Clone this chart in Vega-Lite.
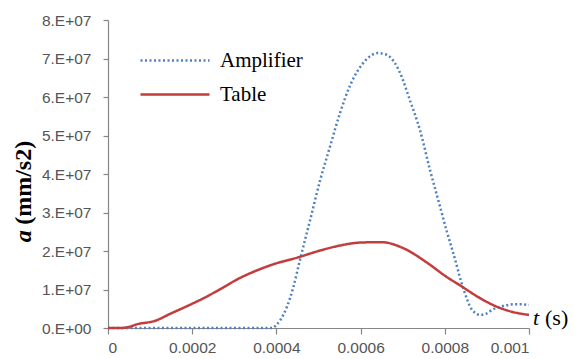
{
  "$schema": "https://vega.github.io/schema/vega-lite/v6.json",
  "width": 421,
  "height": 308,
  "autosize": {"type": "none"},
  "padding": {"left": 108, "top": 20, "right": 46, "bottom": 31},
  "background": "white",
  "config": {
    "view": {"stroke": null},
    "axis": {
      "grid": false,
      "domainColor": "#868686",
      "tickColor": "#868686",
      "domainWidth": 1.2,
      "tickWidth": 1.2,
      "labelFont": "Liberation Sans",
      "labelFontSize": 15.5,
      "labelColor": "#555555",
      "labelOverlap": false
    },
    "legend": {
      "labelFont": "Liberation Serif",
      "labelFontSize": 21,
      "labelColor": "#000000",
      "symbolType": "stroke",
      "symbolSize": 4761,
      "symbolStrokeWidth": 2.5,
      "labelOffset": 9,
      "clipHeight": 21,
      "rowPadding": 12
    }
  },
  "layer": [
    {
      "data": {
        "values": [
          {"series": "Amplifier", "t": 0, "a": 0},
          {"series": "Amplifier", "t": 0.0001, "a": 0},
          {"series": "Amplifier", "t": 0.0002, "a": 0},
          {"series": "Amplifier", "t": 0.0003, "a": 0},
          {"series": "Amplifier", "t": 0.00039, "a": 0},
          {"series": "Amplifier", "t": 0.0004, "a": 800000},
          {"series": "Amplifier", "t": 0.00041, "a": 2200000},
          {"series": "Amplifier", "t": 0.000425, "a": 5500000},
          {"series": "Amplifier", "t": 0.00044, "a": 10500000},
          {"series": "Amplifier", "t": 0.000456, "a": 17700000},
          {"series": "Amplifier", "t": 0.00048, "a": 28000000},
          {"series": "Amplifier", "t": 0.000504, "a": 38400000},
          {"series": "Amplifier", "t": 0.000527, "a": 47000000},
          {"series": "Amplifier", "t": 0.000551, "a": 55800000},
          {"series": "Amplifier", "t": 0.000575, "a": 63000000},
          {"series": "Amplifier", "t": 0.000606, "a": 68800000},
          {"series": "Amplifier", "t": 0.000625, "a": 70800000},
          {"series": "Amplifier", "t": 0.000641, "a": 71400000},
          {"series": "Amplifier", "t": 0.000655, "a": 71200000},
          {"series": "Amplifier", "t": 0.00067, "a": 70400000},
          {"series": "Amplifier", "t": 0.000694, "a": 66200000},
          {"series": "Amplifier", "t": 0.000717, "a": 59200000},
          {"series": "Amplifier", "t": 0.000741, "a": 51400000},
          {"series": "Amplifier", "t": 0.000765, "a": 41000000},
          {"series": "Amplifier", "t": 0.000789, "a": 31400000},
          {"series": "Amplifier", "t": 0.000805, "a": 25000000},
          {"series": "Amplifier", "t": 0.00082, "a": 19500000},
          {"series": "Amplifier", "t": 0.000843, "a": 10600000},
          {"series": "Amplifier", "t": 0.000865, "a": 4700000},
          {"series": "Amplifier", "t": 0.000884, "a": 3400000},
          {"series": "Amplifier", "t": 0.0009, "a": 3800000},
          {"series": "Amplifier", "t": 0.000912, "a": 4700000},
          {"series": "Amplifier", "t": 0.000938, "a": 5700000},
          {"series": "Amplifier", "t": 0.000971, "a": 6200000},
          {"series": "Amplifier", "t": 0.001, "a": 6000000},
          {"series": "Table", "t": 0, "a": 0},
          {"series": "Table", "t": 0.00003, "a": 0},
          {"series": "Table", "t": 0.00005, "a": 300000},
          {"series": "Table", "t": 0.00007, "a": 1000000},
          {"series": "Table", "t": 0.00011, "a": 1800000},
          {"series": "Table", "t": 0.00015, "a": 3800000},
          {"series": "Table", "t": 0.0002, "a": 6300000},
          {"series": "Table", "t": 0.00023, "a": 7900000},
          {"series": "Table", "t": 0.00027, "a": 10300000},
          {"series": "Table", "t": 0.00031, "a": 12800000},
          {"series": "Table", "t": 0.00035, "a": 14800000},
          {"series": "Table", "t": 0.0004, "a": 16800000},
          {"series": "Table", "t": 0.00045, "a": 18300000},
          {"series": "Table", "t": 0.0005, "a": 20000000},
          {"series": "Table", "t": 0.00055, "a": 21400000},
          {"series": "Table", "t": 0.0006, "a": 22200000},
          {"series": "Table", "t": 0.00065, "a": 22300000},
          {"series": "Table", "t": 0.0007, "a": 20800000},
          {"series": "Table", "t": 0.00076, "a": 16800000},
          {"series": "Table", "t": 0.0008, "a": 13600000},
          {"series": "Table", "t": 0.00084, "a": 10800000},
          {"series": "Table", "t": 0.00088, "a": 8000000},
          {"series": "Table", "t": 0.00092, "a": 5700000},
          {"series": "Table", "t": 0.00096, "a": 4200000},
          {"series": "Table", "t": 0.001, "a": 3400000}
        ]
      },
      "mark": {"type": "line", "interpolate": "monotone", "strokeWidth": 2.5},
      "encoding": {
        "x": {
          "field": "t",
          "type": "quantitative",
          "scale": {"domain": [0, 0.001], "nice": false, "zero": false},
          "axis": {"title": null, "values": [0, 0.0002, 0.0004, 0.0006, 0.0008, 0.001], "format": "~g", "tickSize": 6, "labelPadding": 6, "labelOverlap": false}
        },
        "y": {
          "field": "a",
          "type": "quantitative",
          "scale": {"domain": [0, 80000000], "nice": false},
          "axis": {"title": null, "values": [0, 10000000, 20000000, 30000000, 40000000, 50000000, 60000000, 70000000, 80000000], "labelExpr": "datum.value == 0 ? '0.E+00' : format(datum.value / 10000000, 'd') + '.E+07'", "labelOverlap": false, "tickSize": 5, "labelPadding": 12}
        },
        "color": {
          "field": "series",
          "type": "nominal",
          "scale": {"domain": ["Amplifier", "Table"], "range": ["#4F81BD", "#C43D3D"]},
          "legend": {"title": null, "orient": "none", "legendX": 31, "legendY": 30}
        },
        "strokeDash": {
          "field": "series",
          "type": "nominal",
          "scale": {"domain": ["Amplifier", "Table"], "range": [[2, 2.5], [1, 0]]},
          "legend": {"title": null, "orient": "none", "legendX": 31, "legendY": 30}
        }
      }
    },
    {
      "data": {"values": [{"label": "a"}]},
      "mark": {"type": "text", "angle": 270, "align": "left", "baseline": "middle", "font": "Liberation Serif", "fontSize": 24, "fontWeight": "bold", "fontStyle": "italic", "color": "#000000"},
      "encoding": {
        "x": {"datum": -0.0002, "type": "quantitative", "axis": {"title": null, "values": [0, 0.0002, 0.0004, 0.0006, 0.0008, 0.001], "format": "~g", "tickSize": 6, "labelPadding": 6, "labelOverlap": false}},
        "y": {"datum": 22300000, "type": "quantitative", "axis": {"title": null, "values": [0, 10000000, 20000000, 30000000, 40000000, 50000000, 60000000, 70000000, 80000000], "labelExpr": "datum.value == 0 ? '0.E+00' : format(datum.value / 10000000, 'd') + '.E+07'", "labelOverlap": false, "tickSize": 5, "labelPadding": 12}},
        "text": {"field": "label"}
      }
    },
    {
      "data": {"values": [{"label": "(mm/s2)"}]},
      "mark": {"type": "text", "angle": 270, "align": "left", "baseline": "middle", "font": "Liberation Serif", "fontSize": 24, "fontWeight": "bold", "color": "#000000"},
      "encoding": {
        "x": {"datum": -0.0002, "type": "quantitative", "axis": {"title": null, "values": [0, 0.0002, 0.0004, 0.0006, 0.0008, 0.001], "format": "~g", "tickSize": 6, "labelPadding": 6, "labelOverlap": false}},
        "y": {"datum": 26800000, "type": "quantitative", "axis": {"title": null, "values": [0, 10000000, 20000000, 30000000, 40000000, 50000000, 60000000, 70000000, 80000000], "labelExpr": "datum.value == 0 ? '0.E+00' : format(datum.value / 10000000, 'd') + '.E+07'", "labelOverlap": false, "tickSize": 5, "labelPadding": 12}},
        "text": {"field": "label"}
      }
    },
    {
      "data": {"values": [{"label": "t"}]},
      "mark": {"type": "text", "align": "left", "baseline": "middle", "font": "Liberation Serif", "fontSize": 22, "fontStyle": "italic", "color": "#000000"},
      "encoding": {
        "x": {"datum": 0.0010095, "type": "quantitative", "axis": {"title": null, "values": [0, 0.0002, 0.0004, 0.0006, 0.0008, 0.001], "format": "~g", "tickSize": 6, "labelPadding": 6, "labelOverlap": false}},
        "y": {"datum": 2600000, "type": "quantitative", "axis": {"title": null, "values": [0, 10000000, 20000000, 30000000, 40000000, 50000000, 60000000, 70000000, 80000000], "labelExpr": "datum.value == 0 ? '0.E+00' : format(datum.value / 10000000, 'd') + '.E+07'", "labelOverlap": false, "tickSize": 5, "labelPadding": 12}},
        "text": {"field": "label"}
      }
    },
    {
      "data": {"values": [{"label": "(s)"}]},
      "mark": {"type": "text", "align": "left", "baseline": "middle", "font": "Liberation Serif", "fontSize": 22, "color": "#000000"},
      "encoding": {
        "x": {"datum": 0.001038, "type": "quantitative", "axis": {"title": null, "values": [0, 0.0002, 0.0004, 0.0006, 0.0008, 0.001], "format": "~g", "tickSize": 6, "labelPadding": 6, "labelOverlap": false}},
        "y": {"datum": 2600000, "type": "quantitative", "axis": {"title": null, "values": [0, 10000000, 20000000, 30000000, 40000000, 50000000, 60000000, 70000000, 80000000], "labelExpr": "datum.value == 0 ? '0.E+00' : format(datum.value / 10000000, 'd') + '.E+07'", "labelOverlap": false, "tickSize": 5, "labelPadding": 12}},
        "text": {"field": "label"}
      }
    }
  ]
}
